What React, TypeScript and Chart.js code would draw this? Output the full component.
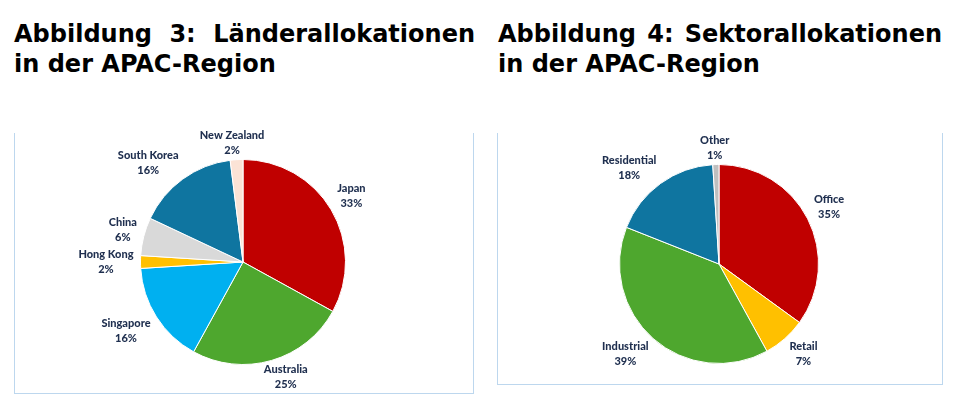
import React, { useEffect, useRef } from "react";
import { Chart, registerables } from "chart.js";

Chart.register(...registerables);

const countryLabels = ["Japan", "Australia", "Singapore", "Hong Kong", "China", "South Korea", "New Zealand"];
const countryValues = [33, 25, 16, 2, 6, 16, 2];
const countryColors = ["#C00000", "#4EA72E", "#00B0F0", "#FFC000", "#D9D9D9", "#0F75A0", "#FBE3D6"];

const sectorLabels = ["Office", "Retail", "Industrial", "Residential", "Other"];
const sectorValues = [35, 7, 39, 18, 1];
const sectorColors = ["#C00000", "#FFC000", "#4EA72E", "#0F75A0", "#BFBFBF"];

const LABEL_FONT = "900 11px Lato";
const LABEL_COLOR = "#1F2F4F";

const clamp1 = (t: number) => Math.max(-1, Math.min(1, t));

const outsideLabels = {
  id: "outsideLabels",
  afterDatasetsDraw(chart: any) {
    const ctx = chart.ctx;
    const meta = chart.getDatasetMeta(0);
    const ds = chart.data.datasets[0];
    const labels = chart.data.labels as string[];
    const total = (ds.data as number[]).reduce((a, b) => a + b, 0);
    ctx.save();
    ctx.font = LABEL_FONT;
    ctx.fillStyle = LABEL_COLOR;
    ctx.textAlign = "center";
    ctx.textBaseline = "middle";
    meta.data.forEach((arc: any, i: number) => {
      const p = arc.getProps(["x", "y", "startAngle", "endAngle", "outerRadius"], true);
      const mid = (p.startAngle + p.endAngle) / 2;
      const ux = Math.cos(mid);
      const uy = Math.sin(mid);
      const l1 = labels[i];
      const l2 = Math.round(((ds.data[i] as number) / total) * 100) + "%";
      const w = Math.max(ctx.measureText(l1).width, ctx.measureText(l2).width);
      const h = 20;
      const gap = 7;
      const px = p.x + (p.outerRadius + gap) * ux;
      const py = p.y + (p.outerRadius + gap) * uy;
      const cx = px + (clamp1(ux * 2) * w) / 2;
      const cy = py + (clamp1(uy * 2) * h) / 2;
      ctx.fillText(l1, cx, cy - 7.5);
      ctx.fillText(l2, cx, cy + 7.5);
    });
    ctx.restore();
  },
};

function PieCanvas(props: {
  labels: string[];
  values: number[];
  colors: string[];
  width: number;
  height: number;
  padding: { left: number; right: number; top: number; bottom: number };
  style: React.CSSProperties;
}) {
  const ref = useRef<HTMLCanvasElement | null>(null);
  useEffect(() => {
    if (!ref.current) return;
    const chart = new Chart(ref.current, {
      type: "pie",
      data: {
        labels: props.labels,
        datasets: [
          {
            data: props.values,
            backgroundColor: props.colors,
            borderColor: "#FFFFFF",
            borderWidth: 1,
          },
        ],
      },
      options: {
        animation: false,
        responsive: false,
        layout: { padding: props.padding },
        plugins: { legend: { display: false }, tooltip: { enabled: false } },
      },
      plugins: [outsideLabels],
    });
    return () => chart.destroy();
  }, []);
  return (
    <canvas
      ref={ref}
      width={props.width}
      height={props.height}
      style={{ position: "absolute", width: props.width, height: props.height, ...props.style }}
    />
  );
}

const titleStyle: React.CSSProperties = {
  position: "absolute",
  top: 19,
  fontFamily: "'DejaVu Sans', Verdana, sans-serif",
  fontWeight: "bold",
  fontSize: 24,
  lineHeight: "30px",
  textAlign: "justify",
  color: "#000",
  margin: 0,
};

const boxStyle: React.CSSProperties = {
  position: "absolute",
  boxSizing: "border-box",
  borderLeft: "1px solid #BDD7EE",
  borderRight: "1px solid #BDD7EE",
  borderBottom: "1px solid #BDD7EE",
};

export default function App() {
  return (
    <div style={{ position: "absolute", left: 0, top: 0, width: 966, height: 397, background: "#fff", overflow: "hidden" }}>
      <div style={{ ...titleStyle, left: 14, width: 461 }}>Abbildung 3: Länderallokationen in der APAC-Region</div>
      <div style={{ ...titleStyle, left: 498, width: 444 }}>Abbildung 4: Sektorallokationen in der APAC-Region</div>

      <div style={{ ...boxStyle, left: 14, top: 133, width: 460, height: 261 }} />
      <div style={{ ...boxStyle, left: 497, top: 133, width: 446, height: 252 }} />

      <PieCanvas
        labels={countryLabels}
        values={countryValues}
        colors={countryColors}
        width={457}
        height={277}
        padding={{ left: 125, right: 126, top: 44, bottom: 27 }}
        style={{ left: 15, top: 115 }}
      />
      <PieCanvas
        labels={sectorLabels}
        values={sectorValues}
        colors={sectorColors}
        width={444}
        height={268}
        padding={{ left: 121, right: 123, top: 49, bottom: 19 }}
        style={{ left: 498, top: 115 }}
      />
    </div>
  );
}
